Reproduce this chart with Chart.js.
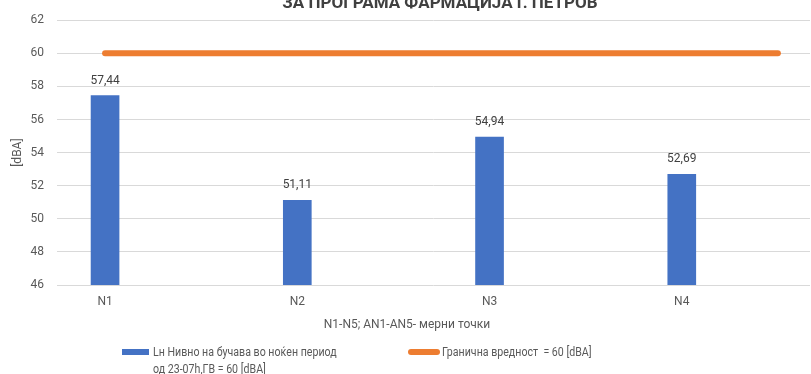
<!DOCTYPE html>
<html>
<head>
<meta charset="utf-8">
<script src="https://cdn.jsdelivr.net/npm/chart.js@4"></script>
<style>
  html, body { margin: 0; padding: 0; background: #fff; overflow: hidden; }
  #wrap { position: relative; width: 811px; height: 374px; font-family: Roboto, sans-serif; color: #595959; }
  #naslov { position: absolute; left: 0; width: 880px; top: -8px; text-align: center; font-size: 17px; font-weight: bold; color: #404040; white-space: nowrap; }
  #xnaslov { position: absolute; left: 0; width: 814px; top: 317px; text-align: center; font-size: 12px; }
  .leg { position: absolute; font-size: 12.5px; line-height: 17px; white-space: nowrap; transform: scaleX(0.85); transform-origin: left top; }
  .kutija { position: absolute; }
  canvas { position: absolute; left: 0; top: 0; }
</style>
</head>
<body>
<div id="wrap">
  <canvas id="grafik" width="811" height="374"></canvas>
  <div id="naslov">ЗА ПРОГРАМА ФАРМАЦИЈА Г. ПЕТРОВ</div>
  <div id="xnaslov">N1-N5; AN1-AN5- мерни точки</div>
  <div class="kutija" style="left:122px;top:349px;width:27px;height:6px;background:#4472C4"></div>
  <div class="leg" style="left:153px;top:343px">Lн Нивно на бучава во ноќен период<br>од 23-07h,ГВ = 60 [dBA]</div>
  <div class="kutija" style="left:408px;top:349px;width:32px;height:6px;border-radius:3px;background:#ED7D31"></div>
  <div class="leg" style="left:442px;top:343px">Гранична вредност &nbsp;= 60 [dBA]</div>
</div>
<script>
// мерни точки и измерени нивоа (ноќен период)
const TOCKI = ['N1', 'N2', 'N3', 'N4'];
const NIVOA = [57.44, 51.11, 54.94, 52.69];
// гранична вредност: почеток и крај на линијата по x
const GRANICA_X = [1, 4.5];
const GRANICA_Y = [60, 60];
const Y_TICKS = [46, 48, 50, 52, 54, 56, 58, 60, 62];

const FONT = 'Roboto, sans-serif';

// вредности над столбовите, со децимална запирка
const vrednostiPlugin = {
  id: 'vrednosti',
  afterDatasetsDraw(chart) {
    const ctx = chart.ctx;
    const meta = chart.getDatasetMeta(0);
    ctx.save();
    ctx.font = '12px ' + FONT;
    ctx.fillStyle = '#404040';
    ctx.textAlign = 'center';
    ctx.textBaseline = 'bottom';
    meta.data.forEach((bar, i) => {
      ctx.fillText(NIVOA[i].toFixed(2).replace('.', ','), bar.x, bar.y - 9);
    });
    ctx.restore();
  },
};

new Chart(document.getElementById('grafik'), {
  data: {
    datasets: [
      {
        type: 'bar',
        data: TOCKI.map((t, i) => ({ x: i + 1, y: NIVOA[i] })),
        backgroundColor: '#4472C4',
        barThickness: 28,
        order: 2,
      },
      {
        type: 'line',
        data: GRANICA_X.map((x, i) => ({ x, y: GRANICA_Y[i] })),
        borderColor: '#ED7D31',
        borderWidth: 6,
        borderCapStyle: 'round',
        pointRadius: 0,
        order: 1,
      },
    ],
  },
  options: {
    responsive: false,
    animation: false,
    layout: { padding: { top: 19, right: 1, left: 0, bottom: 0 } },
    plugins: { legend: { display: false }, title: { display: false }, tooltip: { enabled: false } },
    scales: {
      x: {
        type: 'linear',
        offset: false,
        min: 0.75,
        max: 4.667,
        grid: { display: false },
        border: { display: false },
        afterBuildTicks: (s) => { s.ticks = TOCKI.map((t, i) => ({ value: i + 1 })); },
        afterFit: (s) => { s.height = 89; },
        ticks: {
          autoSkip: false,
          maxRotation: 0,
          padding: 2,
          color: '#595959',
          font: { family: FONT, size: 12 },
          callback: (v) => TOCKI[v - 1] || '',
        },
      },
      y: {
        min: 46,
        max: 62,
        afterBuildTicks: (s) => { s.ticks = Y_TICKS.map(v => ({ value: v })); },
        afterFit: (s) => { s.width = 57; },
        grid: { color: '#d9d9d9', lineWidth: 1, drawTicks: false },
        border: { display: false },
        ticks: { padding: 13, color: '#595959', font: { family: FONT, size: 12 } },
        title: { display: true, text: '[dBA]', color: '#595959', font: { family: FONT, size: 12 }, padding: { top: 11, bottom: 0 } },
      },
    },
  },
  plugins: [vrednostiPlugin],
});
</script>
</body>
</html>
